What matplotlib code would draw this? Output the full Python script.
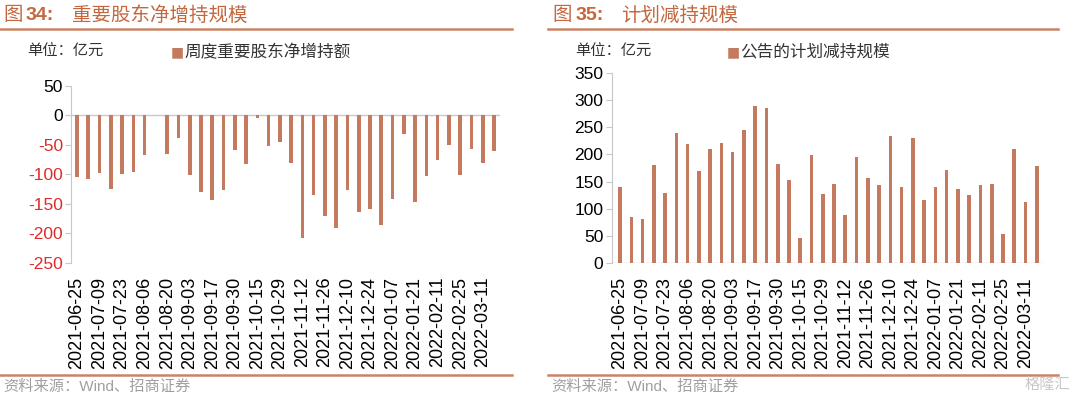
import matplotlib
matplotlib.use("Agg")
from matplotlib import pyplot as plt

plt.rcParams['font.family'] = ['Liberation Sans', 'Noto Sans CJK SC']
plt.rcParams['axes.unicode_minus'] = False

# weekly dates (every other one labelled)
dates = ['2021-06-25', '2021-07-02', '2021-07-09', '2021-07-16', '2021-07-23', '2021-07-30',
         '2021-08-06', '2021-08-13', '2021-08-20', '2021-08-27', '2021-09-03', '2021-09-10',
         '2021-09-17', '2021-09-24', '2021-09-30', '2021-10-08', '2021-10-15', '2021-10-22',
         '2021-10-29', '2021-11-05', '2021-11-12', '2021-11-19', '2021-11-26', '2021-12-03',
         '2021-12-10', '2021-12-17', '2021-12-24', '2021-12-31', '2022-01-07', '2022-01-14',
         '2022-01-21', '2022-01-28', '2022-02-11', '2022-02-18', '2022-02-25', '2022-03-04',
         '2022-03-11', '2022-03-18']

# 周度重要股东净增持额 (亿元)
net_increase = [-104, -108, -97, -124, -100, -96, -68, 0.5, -66, -39,
                -101, -130, -143, -126, -59, -82, -5, -52, -45, -80,
                -207, -135, -170, -190, -126, -164, -158, -185, -142, -31,
                -146, -102, -75, -50, -101, -57, -80, -60]

# 公告的计划减持规模 (亿元)
planned_cut = [141, 85, 81, 180, 130, 239, 219, 170, 210, 221,
               204, 245, 288, 285, 183, 153, 47, 199, 127, 145,
               89, 195, 157, 144, 234, 140, 231, 117, 140, 171,
               137, 125, 143, 146, 54, 209, 112, 178]

bar_color = '#C47A5E'
title_color = '#C4673F'
rule_color = '#C98466'
grid_gray = '#C8C8C8'
neg_red = '#E02A2A'

fig = plt.figure(figsize=(10.8, 3.99), dpi=100)

x = list(range(len(dates)))
tick_idx = x[::2]
tick_lab = [dates[i] for i in tick_idx]


def style_axis(ax):
    for s in ['top', 'right', 'bottom']:
        ax.spines[s].set_visible(False)
    ax.spines['left'].set_color(grid_gray)
    ax.tick_params(axis='y', direction='out', length=4, color=grid_gray,
                   labelsize=12.5, pad=2)
    ax.set_xticks(tick_idx)
    ax.set_xticklabels(tick_lab, rotation=90, fontsize=13)
    ax.tick_params(axis='x', length=0, pad=10)


# ---- left chart ----
ax1 = fig.add_axes([0.0661, 0.3409, 0.3965, 0.4443])
ax1.bar(x, net_increase, width=0.32, color=bar_color, zorder=3)
ax1.axhline(0, color=grid_gray, lw=1, zorder=2)
ax1.set_xlim(-0.5, 37.5)
ax1.set_ylim(-250, 50)
ax1.set_yticks([50, 0, -50, -100, -150, -200, -250])
style_axis(ax1)
for lab, v in zip(ax1.get_yticklabels(), [50, 0, -50, -100, -150, -200, -250]):
    if v < 0:
        lab.set_color(neg_red)

# ---- right chart ----
ax2 = fig.add_axes([0.5664, 0.3401, 0.3994, 0.4777])
ax2.bar(x, planned_cut, width=0.32, color=bar_color, zorder=3)
ax2.axhline(0, color=grid_gray, lw=1, zorder=2)
ax2.set_xlim(-0.74, 37.56)
ax2.set_ylim(0, 350)
ax2.set_yticks(range(0, 351, 50))
style_axis(ax2)

# ---- headers / footers ----
def header(x0, num, rest, x_num, x_rest, rule_x):
    fig.text(x0 / 1080, 1 - 15 / 399, '图', fontsize=14, color=title_color,
             va='center', ha='left', family=['Noto Sans CJK SC'])
    fig.text(x_num / 1080, 1 - 15 / 399, num + ':', fontsize=14, color=title_color,
             va='center', ha='left', fontweight='bold')
    fig.text(x_rest / 1080, 1 - 15 / 399, rest, fontsize=14, color=title_color,
             va='center', ha='left', family=['Noto Sans CJK SC'])
    fig.add_artist(plt.Line2D([rule_x[0] / 1080, rule_x[1] / 1080],
                              [1 - 29 / 399, 1 - 29 / 399], color=rule_color, lw=1.8))
    fig.add_artist(plt.Line2D([rule_x[0] / 1080, rule_x[1] / 1080],
                              [1 - 375 / 399, 1 - 375 / 399], color=rule_color, lw=1.8))
    fig.text((rule_x[0] + 3) / 1080, 1 - 387 / 399, '资料来源：Wind、招商证券',
             fontsize=11, color='#A0A0A0', va='center', ha='left')


header(3, '34', '重要股东净增持规模', 26, 72, (0, 512))
header(552, '35', '计划减持规模', 576, 621, (548, 1058))

# unit labels and legends
fig.text(27 / 1080, 1 - 52 / 399, '单位：亿元', fontsize=11, color='#333333',
         va='center', ha='left')
fig.text(575 / 1080, 1 - 52 / 399, '单位：亿元', fontsize=11, color='#333333',
         va='center', ha='left')
fig.text(171 / 1080, 1 - 52 / 399, '■', fontsize=10, color=bar_color,
         va='center', ha='left', family=['DejaVu Sans'])
fig.text(184 / 1080, 1 - 52 / 399, '周度重要股东净增持额', fontsize=12, color='#333333',
         va='center', ha='left')
fig.text(727 / 1080, 1 - 52 / 399, '■', fontsize=10, color=bar_color,
         va='center', ha='left', family=['DejaVu Sans'])
fig.text(740 / 1080, 1 - 52 / 399, '公告的计划减持规模', fontsize=12, color='#333333',
         va='center', ha='left')

# watermark
fig.text(1070 / 1080, 1 - 385 / 399, '格隆汇', fontsize=11, color='#C8C8C8',
         va='center', ha='right')

fig.savefig('out.png', dpi=100)
